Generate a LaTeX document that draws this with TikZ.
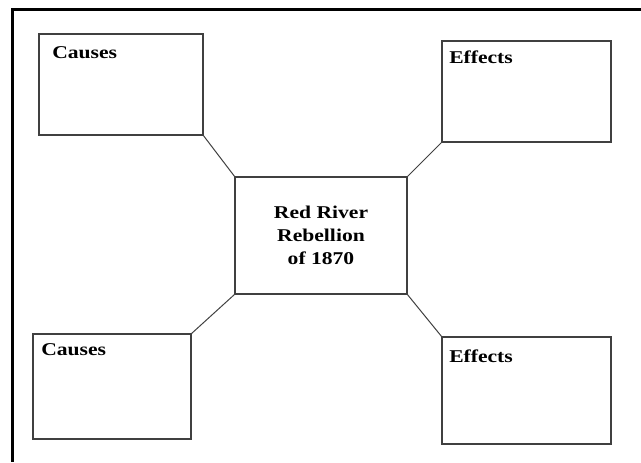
\documentclass[tikz,border=0pt]{standalone}
\usepackage{fontspec}
\setmainfont{Liberation Serif}[FakeStretch=1.2]
\usetikzlibrary{positioning}

\tikzstyle{box} = [rectangle, draw=black!75, line width=1.5pt, inner sep=0pt, outer sep=0pt]
\tikzstyle{hub} = [box, minimum width=129pt, minimum height=87.75pt, align=center, font=\bfseries\fontsize{13.5}{17.25}\selectfont]
\tikzstyle{tag} = [anchor=base west, inner sep=0pt, font=\bfseries\fontsize{13.5}{16}\selectfont]
\tikzstyle{link} = [draw=black!75, line width=0.75pt]

\begin{document}
\begin{tikzpicture}[x=0.75pt, y=-0.75pt]
    \useasboundingbox (0,0) rectangle (641,462);
    % outer frame, cut off by the page edge
    \draw[line width=2.25pt] (641,9.5) -- (12,9.5) -- (12,462);

    % Centre
    \node[hub] (rebellion) at (321,235.5) {Red River\\Rebellion\\of 1870};

    % Boxes round it
    \node[box, minimum width=123pt, minimum height=75.75pt, above left=31.5pt and 24pt of rebellion,
        label={[tag, xshift=9.75pt, yshift=-18pt]north west:Causes}] (causestop) {};
    \node[box, minimum width=126.75pt, minimum height=75.75pt, above right=26.25pt and 26.25pt of rebellion,
        label={[tag, xshift=5.25pt, yshift=-16.5pt]north west:Effects}] (effectstop) {};
    \node[box, minimum width=118.5pt, minimum height=78.75pt, below left=30pt and 33pt of rebellion,
        label={[tag, xshift=6pt, yshift=-15.75pt]north west:Causes}] (causesbot) {};
    \node[box, minimum width=126.75pt, minimum height=80.25pt, below right=32.25pt and 26.25pt of rebellion,
        label={[tag, xshift=5.25pt, yshift=-18.75pt]north west:Effects}] (effectsbot) {};

    % Connections
    \draw[link] (causestop.south east) -- (rebellion.north west);
    \draw[link] (effectstop.south west) -- (rebellion.north east);
    \draw[link] (causesbot.north east) -- (rebellion.south west);
    \draw[link] (effectsbot.north west) -- (rebellion.south east);
\end{tikzpicture}
\end{document}
